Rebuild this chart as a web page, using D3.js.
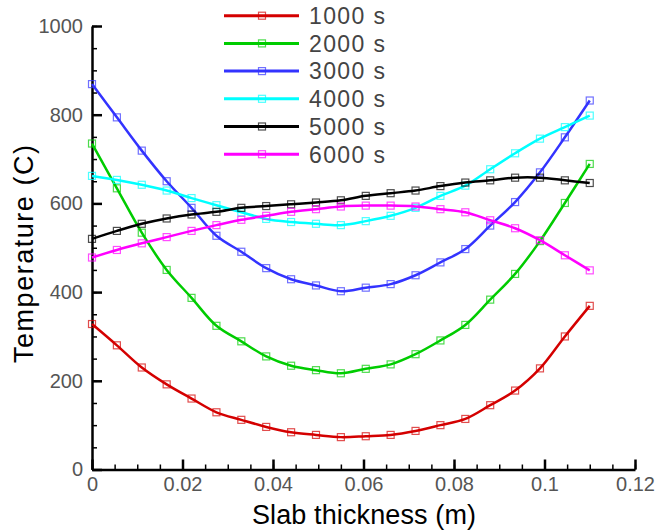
<!DOCTYPE html>
<html>
<head>
<meta charset="utf-8">
<script src="https://cdn.jsdelivr.net/npm/d3@7"></script>
<style>
  html, body { margin: 0; padding: 0; background: #fff; }
  svg { display: block; font-family: "Liberation Sans", Arial, sans-serif; }
</style>
</head>
<body>
<svg id="chart" width="660" height="531"></svg>
<script>
// ---- data ----
const xValues = [0, 0.0055, 0.011, 0.0165, 0.022, 0.0275, 0.033, 0.0385, 0.044, 0.0495, 0.055,
                 0.0605, 0.066, 0.0715, 0.077, 0.0825, 0.088, 0.0935, 0.099, 0.1045, 0.11];
const seriesNames = ["1000 s", "2000 s", "3000 s", "4000 s", "5000 s", "6000 s"];
const t1000 = [328, 280, 230, 192, 160, 129, 112, 96, 84, 78, 73, 75, 78, 87, 100, 114, 145, 178, 228, 300, 369];
const t2000 = [735, 634, 534, 450, 387, 324, 289, 255, 234, 224, 217, 227, 237, 260, 291, 326, 383, 441, 515, 601, 689];
const t3000 = [869, 794, 719, 650, 590, 527, 491, 454, 429, 415, 402, 410, 418, 438, 467, 497, 550, 603, 670, 749, 832];
const t4000 = [662, 653, 642, 629, 612, 596, 580, 565, 558, 554, 551, 560, 572, 590, 617, 640, 677, 713, 746, 772, 798];
const t5000 = [520, 538, 554, 566, 575, 581, 590, 594, 598, 602, 607, 617, 623, 629, 639, 647, 652, 658, 658, 652, 646];
const t6000 = [478, 495, 510, 524, 538, 551, 563, 572, 581, 587, 593, 595, 595, 593, 587, 580, 562, 544, 517, 483, 449];
const xTickValues = [0, 0.02, 0.04, 0.06, 0.08, 0.1, 0.12];
const xTickLabels = ["0", "0.02", "0.04", "0.06", "0.08", "0.1", "0.12"];
const yTickValues = [0, 200, 400, 600, 800, 1000];
const yTickLabels = ["0", "200", "400", "600", "800", "1000"];
const colors = ["#d40000", "#00cc00", "#3333ff", "#00ffff", "#000000", "#ff00ff"];

const allSeries = [t1000, t2000, t3000, t4000, t5000, t6000];

// ---- layout ----
const svg = d3.select("#chart");
const x = d3.scaleLinear().domain([0, 0.12]).range([92, 635]);
const y = d3.scaleLinear().domain([0, 1000]).range([469.5, 26]);

// minor ticks
svg.append("g")
  .attr("transform", `translate(${x(0)},0)`)
  .call(d3.axisLeft(y).tickValues(d3.range(0, 1001, 50)).tickSizeInner(-5).tickSizeOuter(0).tickFormat(""))
  .call(g => g.selectAll("line").attr("stroke", "#000").attr("stroke-width", 1.5))
  .call(g => g.select(".domain").remove());
svg.append("g")
  .attr("transform", `translate(0,${y(0)})`)
  .call(d3.axisBottom(x).tickValues(d3.range(0, 25).map(i => i * 0.005)).tickSizeInner(-5).tickSizeOuter(0).tickFormat(""))
  .call(g => g.selectAll("line").attr("stroke", "#000").attr("stroke-width", 1.5))
  .call(g => g.select(".domain").remove());

// major axes
const yAxis = svg.append("g")
  .attr("transform", `translate(${x(0)},0)`)
  .call(d3.axisLeft(y).tickValues(yTickValues).tickSizeInner(-10).tickSizeOuter(0).tickPadding(9)
        .tickFormat((d, i) => yTickLabels[i]));
const xAxis = svg.append("g")
  .attr("transform", `translate(0,${y(0)})`)
  .call(d3.axisBottom(x).tickValues(xTickValues).tickSizeInner(-10).tickSizeOuter(0).tickPadding(7.5)
        .tickFormat((d, i) => xTickLabels[i]));
[yAxis, xAxis].forEach(g => {
  g.select(".domain").attr("stroke", "#000").attr("stroke-width", 2.5);
  g.selectAll(".tick line").attr("stroke", "#000").attr("stroke-width", 2.5);
  g.selectAll(".tick text").attr("font-size", 20).attr("fill", "#555")
    .attr("font-family", "'Liberation Sans', Arial, sans-serif");
});

// axis titles
svg.append("text")
  .attr("x", 364).attr("y", 524)
  .attr("text-anchor", "middle")
  .attr("font-size", 27).attr("fill", "#000")
  .attr("textLength", 224).attr("lengthAdjust", "spacing")
  .text("Slab thickness (m)");
svg.append("text")
  .attr("transform", "translate(33,254) rotate(-90)")
  .attr("text-anchor", "middle")
  .attr("font-size", 27).attr("fill", "#000")
  .attr("textLength", 218).attr("lengthAdjust", "spacing")
  .text("Temperature (C)");

// series
const line = d3.line()
  .x((d, i) => x(xValues[i]))
  .y(d => y(d))
  .curve(d3.curveCatmullRom.alpha(0.5));

const ms = 7;
allSeries.forEach((vals, si) => {
  const g = svg.append("g");
  g.append("path")
    .datum(vals)
    .attr("d", line)
    .attr("fill", "none")
    .attr("stroke", colors[si])
    .attr("stroke-width", 2.5);
  g.selectAll("rect")
    .data(vals)
    .join("rect")
    .attr("x", (d, i) => x(xValues[i]) - ms / 2)
    .attr("y", d => y(d) - ms / 2)
    .attr("width", ms).attr("height", ms)
    .attr("fill", "none")
    .attr("stroke", colors[si])
    .attr("stroke-opacity", 0.7)
    .attr("stroke-width", 1.2);
});

// legend
const legend = svg.append("g");
seriesNames.forEach((name, si) => {
  const ly = 15.7 + si * 27.7;
  legend.append("line")
    .attr("x1", 224).attr("x2", 299).attr("y1", ly).attr("y2", ly)
    .attr("stroke", colors[si]).attr("stroke-width", 3);
  legend.append("rect")
    .attr("x", 262 - ms / 2).attr("y", ly - ms / 2).attr("width", ms).attr("height", ms)
    .attr("fill", "none").attr("stroke", colors[si]).attr("stroke-opacity", 0.7).attr("stroke-width", 1.2);
  legend.append("text")
    .attr("x", 309).attr("y", ly + 8.3)
    .attr("font-size", 23).attr("fill", "#444")
    .attr("textLength", 76).attr("lengthAdjust", "spacing")
    .text(name);
});
</script>
</body>
</html>
